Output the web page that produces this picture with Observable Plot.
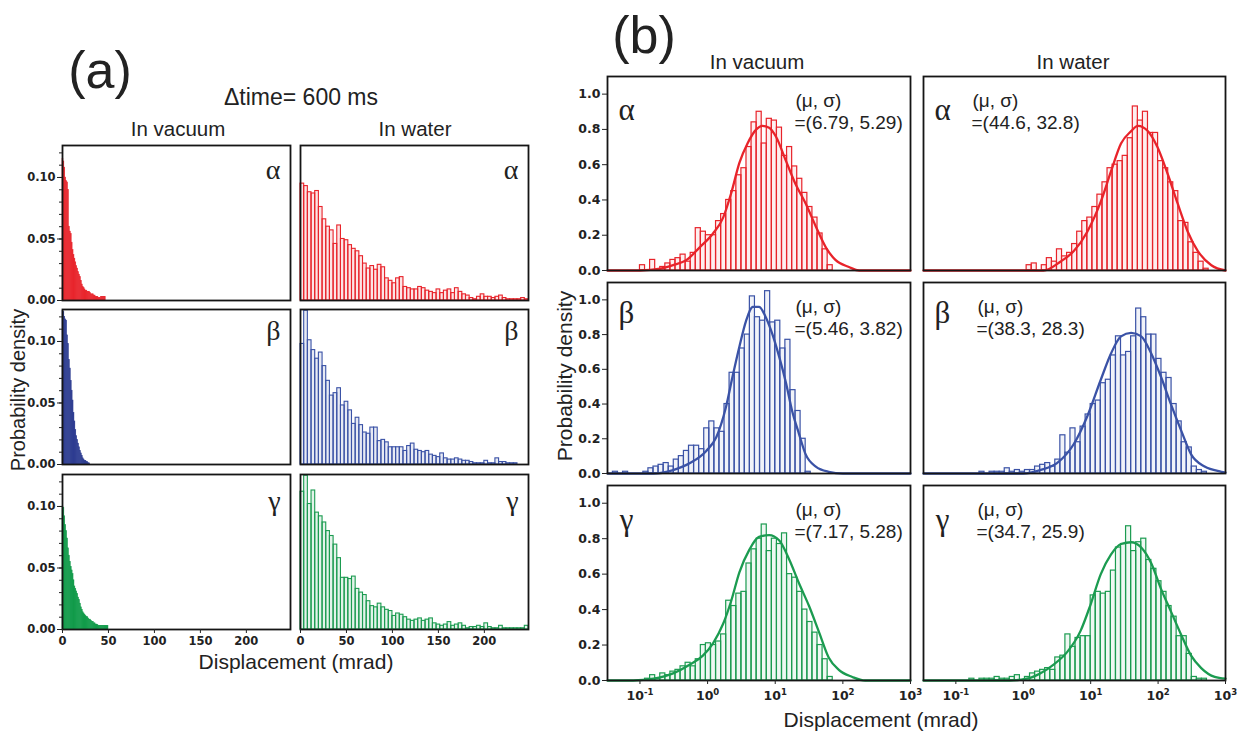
<!DOCTYPE html>
<html><head><meta charset="utf-8">
<script src="https://cdn.jsdelivr.net/npm/d3@7"></script>
<script src="https://cdn.jsdelivr.net/npm/@observablehq/plot@0.6"></script>
<style>
body{margin:0;background:#fff;}
#root{position:relative;width:1237px;height:731px;overflow:hidden;font-family:"Liberation Sans",Arial,sans-serif;color:#222;}
.lbl{position:absolute;transform:translate(-50%,-50%);white-space:nowrap;line-height:1;}
</style></head><body><div id="root"></div>
<script>
// ---------- (a) linear histograms: bin width in mrad ----------
const aVacBin = 1, aWatBin = 4;
const aVacAlpha = [0.115,0.113,0.108,0.100,0.097,0.096,0.090,0.060,0.056,0.054,0.047,0.041,0.037,0.034,0.031,0.028,0.026,0.023,0.021,0.019,0.016,0.013,0.011,0.010,0.009,0.008,0.008,0.007,0.007,0.007,0.006,0.005,0.005,0.005,0.004,0.004,0.003,0.003,0.003,0.002,0.002,0.002,0.003,0.003,0.003,0.003,0.003];
const aVacBeta = [0.125,0.124,0.120,0.118,0.117,0.105,0.098,0.085,0.078,0.068,0.060,0.052,0.042,0.035,0.028,0.023,0.020,0.017,0.014,0.011,0.009,0.007,0.005,0.004,0.003,0.003,0.002,0.002,0.001,0.001];
const aVacGamma = [0.100,0.099,0.092,0.085,0.080,0.074,0.066,0.060,0.055,0.051,0.048,0.045,0.040,0.035,0.033,0.031,0.029,0.026,0.024,0.021,0.018,0.016,0.014,0.013,0.012,0.011,0.010,0.010,0.009,0.008,0.008,0.007,0.006,0.006,0.005,0.005,0.004,0.004,0.0035,0.003,0.003,0.003,0.003,0.003,0.003,0.003,0.003,0.003,0.003,0.003];
const aWatAlpha = [0.095,0.093,0.088,0.087,0.089,0.076,0.066,0.060,0.057,0.046,0.061,0.050,0.049,0.045,0.042,0.040,0.036,0.030,0.026,0.028,0.025,0.029,0.027,0.018,0.016,0.014,0.018,0.019,0.011,0.010,0.009,0.009,0.011,0.010,0.008,0.007,0.006,0.009,0.006,0.008,0.009,0.006,0.010,0.007,0.005,0.004,0.002,0.001,0.003,0.005,0.003,0.003,0.002,0.003,0.004,0.002,0.001,0.001,0.001,0.001,0.002,0.001];
const aWatBeta = [0.098,0.125,0.101,0.093,0.086,0.091,0.080,0.068,0.056,0.058,0.062,0.048,0.051,0.044,0.033,0.038,0.032,0.026,0.025,0.030,0.030,0.019,0.020,0.018,0.014,0.014,0.014,0.014,0.011,0.015,0.017,0.012,0.011,0.010,0.011,0.008,0.007,0.006,0.009,0.005,0.004,0.004,0.005,0.004,0.003,0.003,0.002,0.001,0.001,0.001,0.003,0.001,0.001,0.005,0.002,0.002,0.001,0.001,0.001];
const aWatGamma = [0.112,0.125,0.102,0.113,0.095,0.092,0.087,0.080,0.076,0.069,0.058,0.042,0.042,0.041,0.043,0.033,0.030,0.028,0.023,0.019,0.018,0.021,0.018,0.016,0.015,0.011,0.013,0.012,0.010,0.008,0.007,0.008,0.009,0.007,0.008,0.009,0.005,0.004,0.003,0.004,0.006,0.003,0.004,0.005,0.003,0.001,0.002,0.002,0.003,0.002,0.005,0.002,0.001,0.001,0.003,0.001,0.001,0.001,0.001,0.001,0.001,0.003];
const aXTicks = [0,50,100,150,200];
const aYTicks = [0,0.05,0.10];
const aYMinor = [0,0.01,0.02,0.03,0.04,0.05,0.06,0.07,0.08,0.09,0.10,0.11,0.12];

// ---------- (b) log histograms: bins in log10(mrad) ----------
const bBinW = 0.075;
const bVacAlphaStart = -1.0;
const bVacAlpha = [0.03,0,0.06,0,0.02,0.04,0.06,0.07,0.09,0.05,0.10,0.24,0.22,0.20,0.20,0.28,0.32,0.40,0.45,0.54,0.58,0.70,0.84,0.90,0.72,0.86,0.85,0.81,0.65,0.70,0.59,0.52,0.44,0.36,0.30,0.21,0.12,0.03];
const bWatAlphaStart = 0.05;
const bWatAlpha = [0.03,0.04,0,0.03,0.07,0.05,0.12,0.08,0.10,0.15,0.22,0.28,0.30,0.36,0.43,0.50,0.58,0.60,0.62,0.65,0.75,0.93,0.85,0.90,0.78,0.78,0.62,0.58,0.50,0.45,0.28,0.27,0.16,0.10,0.05,0.01];
const bVacBetaStart = -1.4;
const bVacBeta = [0.01,0,0.01,0,0,0,0.01,0.03,0.04,0.05,0.06,0.04,0.08,0.10,0.13,0.16,0.16,0.14,0.26,0.30,0.26,0.24,0.40,0.58,0.58,0.72,0.80,1.02,0.90,0.88,1.05,0.87,0.88,0.72,0.77,0.48,0.36,0.20,0.01];
const bWatBetaStart = -0.65;
const bWatBeta = [0.01,0,0.01,0.01,0.01,0.03,0.01,0.02,0.01,0.02,0.02,0.04,0.05,0.06,0.04,0.08,0.22,0.12,0.26,0.18,0.27,0.34,0.40,0.42,0.52,0.54,0.68,0.79,0.68,0.70,0.79,0.95,0.90,0.80,0.80,0.66,0.58,0.55,0.40,0.30,0.18,0.15,0.04,0.02,0.01];
const bVacGammaStart = -0.925;
const bVacGamma = [0.01,0.03,0.01,0.04,0.03,0.05,0.06,0.08,0.10,0.08,0.12,0.20,0.21,0.20,0.22,0.26,0.45,0.42,0.49,0.50,0.66,0.74,0.80,0.88,0.73,0.80,0.77,0.83,0.60,0.58,0.50,0.40,0.33,0.27,0.20,0.12,0.02];
const bWatGammaStart = -0.8;
const bWatGamma = [0.01,0,0.01,0.01,0.01,0.02,0.01,0.01,0.02,0.03,0,0.02,0.04,0.05,0.06,0.07,0.06,0.13,0.14,0.26,0.19,0.24,0.25,0.25,0.48,0.50,0.49,0.50,0.62,0.75,0.77,0.87,0.73,0.78,0.80,0.68,0.63,0.56,0.50,0.42,0.36,0.25,0.25,0.15,0.02,0.01,0.01];

// fitted curves (log10 x, density)
const fitVacAlphaX = [-1.48,-1.0,-0.7,-0.51,-0.31,-0.12,0.08,0.23,0.35,0.47,0.59,0.72,0.81,0.91,1.01,1.16,1.30,1.45,1.60,1.75,1.89,2.09,2.24,3.0];
const fitVacAlphaY = [0,0,0.01,0.03,0.06,0.13,0.21,0.30,0.44,0.61,0.72,0.80,0.82,0.81,0.76,0.62,0.49,0.38,0.25,0.13,0.06,0.02,0,0];
const fitWatAlphaX = [-1.48,0.3,0.55,0.75,0.95,1.15,1.30,1.45,1.60,1.70,1.85,1.99,2.14,2.29,2.44,2.59,2.79,3.0];
const fitWatAlphaY = [0,0,0.05,0.11,0.22,0.39,0.56,0.72,0.79,0.82,0.79,0.70,0.55,0.38,0.22,0.11,0.03,0.0];
const fitVacBetaX = [-1.48,-0.8,-0.51,-0.26,-0.02,0.13,0.27,0.37,0.47,0.57,0.67,0.76,0.86,0.96,1.06,1.16,1.25,1.35,1.45,1.60,1.79,2.0,3.0];
const fitVacBetaY = [0,0,0.02,0.06,0.13,0.21,0.38,0.56,0.73,0.88,0.96,0.96,0.90,0.80,0.67,0.52,0.36,0.23,0.11,0.04,0.01,0,0];
const fitWatBetaX = [-1.48,0.0,0.25,0.50,0.75,0.95,1.15,1.30,1.45,1.60,1.75,1.90,2.04,2.19,2.34,2.49,2.69,2.94,3.0];
const fitWatBetaY = [0,0,0.02,0.06,0.17,0.33,0.54,0.69,0.79,0.81,0.79,0.69,0.56,0.40,0.25,0.11,0.04,0.01,0.005];
const fitVacGammaX = [-1.48,-1.1,-0.8,-0.51,-0.26,-0.07,0.08,0.23,0.35,0.47,0.62,0.76,0.91,1.06,1.21,1.35,1.50,1.65,1.79,1.94,2.14,2.33,3.0];
const fitVacGammaY = [0,0,0.01,0.04,0.09,0.14,0.21,0.32,0.45,0.61,0.74,0.81,0.82,0.79,0.68,0.55,0.42,0.27,0.13,0.06,0.02,0,0];
const fitWatGammaX = [-1.48,-0.2,0.05,0.25,0.45,0.65,0.85,1.00,1.15,1.30,1.45,1.60,1.75,1.90,2.04,2.19,2.34,2.49,2.64,2.84,3.0];
const fitWatGammaY = [0,0,0.01,0.04,0.09,0.16,0.28,0.43,0.60,0.71,0.77,0.78,0.75,0.66,0.52,0.39,0.26,0.14,0.07,0.02,0.01];

const fitParamsVac = ["=(6.79, 5.29)","=(5.46, 3.82)","=(7.17, 5.28)"];
const fitParamsWat = ["=(44.6, 32.8)","=(38.3, 28.3)","=(34.7, 25.9)"];
const particles = ["α","β","γ"];
const bXTicks = [0.1,1,10,100,1000];
const bYTicks = [0,0.2,0.4,0.6,0.8,1.0];

const RED = "#e8232a", BLUE_A = "#2b3a8f", BLUE = "#3a52a6", GREEN_A = "#0f9a48", GREEN = "#1b9b50";
const TICKFONT = "'DejaVu Sans', Verdana, sans-serif";

const root = document.getElementById("root");
function place(svg, left, top){
  svg.style.position = "absolute"; svg.style.left = left + "px"; svg.style.top = top + "px";
  svg.style.overflow = "visible";
  root.appendChild(svg);
}
function label(text, cx, cy, size, rotate){
  const d = document.createElement("div");
  d.className = "lbl"; d.textContent = text;
  d.style.left = cx + "px"; d.style.top = cy + "px"; d.style.fontSize = size + "px";
  if (rotate) d.style.transform = "translate(-50%,-50%) rotate(-90deg)";
  root.appendChild(d);
}
const baseStyle = {fontFamily: TICKFONT, fontSize:"11.5px", fontWeight:"bold", color:"#222", background:"transparent", overflow:"visible"};

function panelA({fl, ft, fw, fh, vals, bin, color, filled, letter, letterDy, showY, showX}){
  const ml = 46, mb = 24, mt = 2, mr = 2;
  const bars = vals.map((v,i) => ({x1: i*bin, x2: (i+1)*bin, y: v}));
  const marks = [
    filled
      ? Plot.rectY(bars, {x1:"x1", x2:"x2", y:"y", fill: color, stroke: color, strokeWidth: 0.5})
      : Plot.rectY(bars, {x1:"x1", x2:"x2", y:"y", fill: color, fillOpacity: 0.12, stroke: color, strokeWidth: 1.1}),
    Plot.frame({stroke:"#151515", strokeWidth: 1.8}),
    Plot.text([letter], {text: d => d, frameAnchor:"top-right", textAnchor:"end", lineAnchor:"middle", dx:-10, dy: letterDy, fontSize: 28, fontFamily:"'Liberation Serif', serif", fontWeight:"normal", fill:"#222"})
  ];
  if (showY){
    marks.push(Plot.axisY({ticks: aYMinor, tickSize: 3, tickFormat: () => "", label: null}));
    marks.push(Plot.axisY({ticks: aYTicks, tickSize: 5, tickPadding: 2, tickFormat: d3.format(".2f"), label: null, fontSize: 11.5, fontFamily: TICKFONT, fontWeight: "bold"}));
  }
  if (showX) marks.push(Plot.axisX({ticks: aXTicks, tickSize: 4, tickPadding: 3, tickFormat: d3.format("d"), label: null, fontSize: 11.5, fontFamily: TICKFONT, fontWeight: "bold"}));
  const svg = Plot.plot({
    width: fw + ml + mr, height: fh + mt + mb,
    marginLeft: ml, marginRight: mr, marginTop: mt, marginBottom: mb,
    x: Object.assign({domain: [0, 248]}, showX ? {} : {axis: null}),
    y: Object.assign({domain: [0, 0.126]}, showY ? {} : {axis: null}),
    style: baseStyle, marks
  });
  place(svg, fl - ml, ft - mt);
}

function panelB({fl, ft, fw, fh, vals, start, color, fitX, fitY, letter, letterDy, params, pdx, showY, showX}){
  const ml = 44, mb = 30, mt = 2, mr = 4;
  const bars = vals.map((v,i) => ({x1: 10 ** (start + i*bBinW), x2: 10 ** (start + (i+1)*bBinW), y: v}));
  const fit = fitX.map((lx,i) => ({x: 10 ** lx, y: fitY[i]}));
  const marks = [
    Plot.rectY(bars, {x1:"x1", x2:"x2", y:"y", fill: color, fillOpacity: 0.07, stroke: color, strokeWidth: 1.2}),
    Plot.line(fit, {x:"x", y:"y", stroke: color, strokeWidth: 2.3, curve: "monotone-x"}),
    Plot.frame({stroke:"#151515", strokeWidth: 1.8}),
    Plot.text([letter], {text: d => d, frameAnchor:"top-left", textAnchor:"middle", lineAnchor:"middle", dx: 19, dy: letterDy, fontSize: 31, fontFamily:"'Liberation Serif', serif", fontWeight:"normal", fill:"#222"}),
    Plot.text(["(μ, σ)"], {text: d => d, frameAnchor:"top-left", textAnchor:"start", lineAnchor:"middle", dx: pdx, dy: 24, fontSize: 19, fontFamily:"'Liberation Sans', Arial, sans-serif", fontWeight:"normal", fill:"#222"}),
    Plot.text([params], {text: d => d, frameAnchor:"top-left", textAnchor:"start", lineAnchor:"middle", dx: pdx - 1, dy: 46, fontSize: 19, fontFamily:"'Liberation Sans', Arial, sans-serif", fontWeight:"normal", fill:"#222"})
  ];
  if (showY) marks.push(Plot.axisY({ticks: bYTicks, tickSize: 5, tickPadding: 2, tickFormat: d3.format(".1f"), label: null, fontSize: 12.5, fontFamily: TICKFONT, fontWeight: "bold"}));
  if (showX) marks.push(Plot.axisX({ticks: bXTicks, tickSize: 4, tickPadding: 7, tickFormat: d => "10^" + Math.round(Math.log10(d)), label: null, fontSize: 12.5, fontFamily: TICKFONT, fontWeight: "bold"}));
  const svg = Plot.plot({
    width: fw + ml + mr, height: fh + mt + mb,
    marginLeft: ml, marginRight: mr, marginTop: mt, marginBottom: mb,
    x: Object.assign({type: "log", domain: [10 ** -1.48, 1000]}, showX ? {} : {axis: null}),
    y: Object.assign({domain: [0, 1.1]}, showY ? {} : {axis: null}),
    style: baseStyle, marks
  });
  if (showX){
    d3.select(svg).selectAll('g[aria-label="x-axis tick label"] text').each(function(){
      const parts = this.textContent.split("^");
      if (parts.length < 2) return;
      this.textContent = "";
      const s = d3.select(this);
      s.append("tspan").text(parts[0]);
      s.append("tspan").attr("dy", "-0.6em").attr("font-size", "8.5px").text(parts[1]);
    });
  }
  place(svg, fl - ml, ft - mt);
}

// ---- layout (a) ----
const aCols = [62, 300], aRows = [145, 309, 474], aW = 228, aH = 155;
const aVac = [aVacAlpha, aVacBeta, aVacGamma], aWat = [aWatAlpha, aWatBeta, aWatGamma];
const aVacColors = [RED, BLUE_A, GREEN_A], aWatColors = [RED, BLUE, GREEN];
const aLetterDy = [25, 22, 27];
for (let r = 0; r < 3; r++){
  panelA({fl: aCols[0], ft: aRows[r], fw: aW, fh: aH, vals: aVac[r], bin: aVacBin, color: aVacColors[r], filled: true, letter: particles[r], letterDy: aLetterDy[r], showY: true, showX: r === 2});
  panelA({fl: aCols[1], ft: aRows[r], fw: aW, fh: aH, vals: aWat[r], bin: aWatBin, color: aWatColors[r], filled: false, letter: particles[r], letterDy: aLetterDy[r], showY: false, showX: r === 2});
}

// ---- layout (b) ----
const bCols = [607, 923], bW = [303, 302], bRows = [76, 282, 485], bH = [194, 191, 195];
const bVac = [bVacAlpha, bVacBeta, bVacGamma], bWat = [bWatAlpha, bWatBeta, bWatGamma];
const bVacStarts = [bVacAlphaStart, bVacBetaStart, bVacGammaStart], bWatStarts = [bWatAlphaStart, bWatBetaStart, bWatGammaStart];
const bColors = [RED, BLUE, GREEN];
const fitVacX = [fitVacAlphaX, fitVacBetaX, fitVacGammaX], fitVacY = [fitVacAlphaY, fitVacBetaY, fitVacGammaY];
const fitWatX = [fitWatAlphaX, fitWatBetaX, fitWatGammaX], fitWatY = [fitWatAlphaY, fitWatBetaY, fitWatGammaY];
const bLetterDy = [34, 31, 35];
for (let r = 0; r < 3; r++){
  panelB({fl: bCols[0], ft: bRows[r], fw: bW[0], fh: bH[r], vals: bVac[r], start: bVacStarts[r], color: bColors[r], fitX: fitVacX[r], fitY: fitVacY[r], letter: particles[r], letterDy: bLetterDy[r], params: fitParamsVac[r], pdx: 188, showY: true, showX: r === 2});
  panelB({fl: bCols[1], ft: bRows[r], fw: bW[1], fh: bH[r], vals: bWat[r], start: bWatStarts[r], color: bColors[r], fitX: fitWatX[r], fitY: fitWatY[r], letter: particles[r], letterDy: bLetterDy[r], params: fitParamsWat[r], pdx: r === 0 ? 49 : 54, showY: false, showX: r === 2});
}

// ---- titles and axis labels ----
label("(a)", 100, 70, 52);
label("(b)", 644, 35, 52);
label("\u0394time= 600 ms", 301, 97, 23);
label("In vacuum", 178, 129, 20.5);
label("In water", 415, 129, 20.5);
label("In vacuum", 757, 62, 20.5);
label("In water", 1073, 62, 20.5);
label("Probability density", 18, 390, 20, true);
label("Probability density", 564, 376, 21, true);
label("Displacement (mrad)", 296, 661, 21);
label("Displacement (mrad)", 881, 719, 21);
</script></body></html>
